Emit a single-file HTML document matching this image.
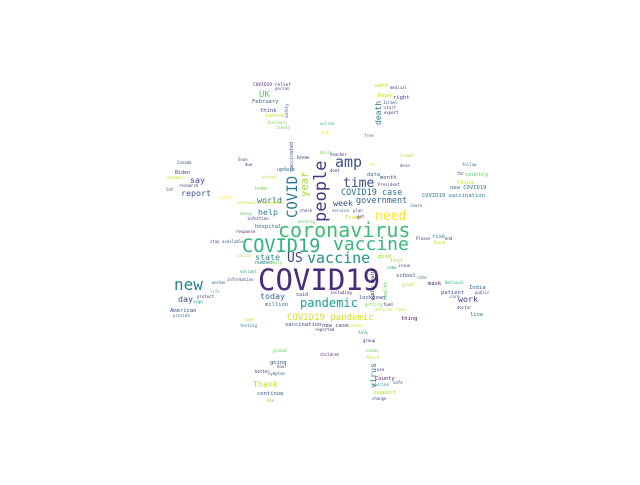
<!DOCTYPE html>
<html><head><meta charset="utf-8"><style>
html,body{margin:0;padding:0;background:#fff;}
svg text{font-family:"DejaVu Sans Mono","Liberation Mono",monospace;}
</style></head><body>
<svg width="640" height="480" viewBox="0 0 640 480" xmlns="http://www.w3.org/2000/svg">
<rect width="640" height="480" fill="#fff"/>
<g id="words"></g>
</svg>
<script>
// word, x, baseline y, font size, color, vertical
const words = ["COVID19","coronavirus","COVID19","vaccine","vaccine","US","new","people","amp","time","COVID","year","need","COVID19 case","government","week","pandemic","COVID19 pandemic","state","world","help","say","report","today","day","work","UK","death","Thank","virus",
"Canada","Biden","student","research","lot","Sean","due","know","update","effect","report","coronavirus pandemic","home","money","infection","hospital","response","stop available","social","number","family","variant","information","worker","life","protect","sign","American","provide","said","million","working","check",
"daily","teacher","travel","re","dose","follow","far","country","data","month","dont","China","new COVID19","President","COVID19 vaccination","plan","Trump","get","learn","service","risk","Please","end","found","good","test","came","issue","school","rate","mask","National","great","patient","India","public","lockdown","care","including","getting","food","article","case","doctor","live","thing",
"look","testing","vaccination","new case","access","reported","talk","group","global","children","leader","March","going","hour","use","better","symptom","County","safe","vaccine","continue","support","change","die",
"COVID19 relief","person","want","medical","February","Read","right","Israel","start","expert","think","latest","business","likely","online","hub","free","vaccinated","safety","health","public health"];
const xs = [258,278,242,333,307,287,174,326,335,343,297,308,375,341,356,333,300,287,255,257,258,190,181,260,178,458,259,381,253,376,
177,175,167,179,166,238,245,297,277,262,218,237,255,240,247,255,236,210,237,255,268,240,227,212,210,197,193,170,173,296,265,298,300,
320,330,400,370,400,462,457,465,367,380,330,457,450,378,422,353,345,357,410,332,432,416,445,433,378,390,387,398,396,417,428,445,402,441,469,475,359,450,330,365,383,375,396,457,470,401,
244,240,285,322,348,315,358,363,273,320,365,367,270,277,377,255,268,375,393,372,257,373,372,267,
253,275,375,390,252,378,393,383,384,384,260,265,268,276,320,322,364,293,288,387,374];
const ys = [290,237,252,250,263,262,290,222,167,187,218,197,220,195,203,206,307,320,260,203,215,183,196,299,302,302,97,125,387,388,
164,174,179,187,191,161,166,159,171,179,199,204,190,215,220,228,233,243,257,264,264,273,281,284,293,298,303,312,317,296,306,223,212,
154,156,157,166,167,166,175,176,176,179,172,184,189,186,197,212,219,218,207,212,238,240,240,244,258,262,269,267,277,279,285,284,286,294,289,294,299,298,294,306,306,311,311,309,316,320,
321,327,326,327,327,331,334,342,352,356,352,359,364,368,371,373,375,380,384,386,395,394,400,402,
86,90,87,89,103,97,99,104,109,114,112,117,124,129,125,134,137,172,118,300,300];
const sizes = [29,20,18.6,18,15,13,16,17,15,13,14,10.5,13,8.5,8.5,8.3,12,9,8.3,8.3,8.3,8.3,8.3,8.3,8.3,8.3,9,8,8.3,8.3,
4,5,4,4,4,4,4,5,5,4,4,4,5,4,4,5.5,4,4,4,5,4,4,4,4,4,4,4,5.5,4,5,5.5,4,4,
4,4,4,4,4,4,4,5.5,5.5,5.5,4,5.5,5.5,4,5.5,4,5.5,4,4,4,5.5,4,4,4,5.5,5.5,4,4,5.5,4,5.5,4,4,5.5,5.5,4,5.5,4,4,4,4,4,4,4,5.5,5.5,
4,4,5.5,5.5,4,4,4,4,4,4,4,4,5.5,4,4,4,4,5.5,4,4,5.5,5.5,4,4,
4.5,4,5.5,4,5.5,5.5,5.5,4,4,4,5.5,5.5,4,4,4,4,4,5,4,5,4];
const colors = ["#472d7b","#3fbc73","#2db27d","#35b779","#21918c","#414487","#26828e","#46337e","#3b528b","#3e4a89","#2a788e","#a5db36","#fde725","#2c728e","#33638d","#3b528b","#1f9e89","#d2e21b","#25858e","#2c728e","#287c8e","#414487","#3b528b","#31688e","#3e4a89","#443983","#5ec962","#2a788e","#c8e020","#2a788e",
"#3b528b","#414487","#bddf26","#482878","#46337e","#31688e","#482878","#3e4a89","#2c728e","#b5de2b","#fde725","#bddf26","#7ad151","#5ec962","#482878","#31688e","#471164","#3b528b","#a5db36","#25858e","#6ece58","#1f9e89","#3e4a89","#31688e","#35b779","#46337e","#1f9e89","#38588c","#2a788e","#3b528b","#2c728e","#5ec962","#414487",
"#6ece58","#482878","#a5db36","#d2e21b","#3b528b","#2c728e","#3e4a89","#5ec962","#2c728e","#3b528b","#471164","#c8e020","#2c728e","#443983","#2a788e","#3b528b","#c8e020","#481f70","#3b528b","#31688e","#2a788e","#414487","#482878","#bddf26","#addc30","#a5db36","#1f9e89","#443983","#3b528b","#2c728e","#482878","#35b779","#addc30","#3b528b","#31688e","#414487","#3b528b","#31688e","#482878","#7ad151","#481f70","#bddf26","#c8e020","#46337e","#2c728e",
"#471164","#c8e020","#26828e","#3e4a89","#443983","#d2e21b","#482878","#21918c","#471164","#5ec962","#481f70","#6ece58","#c8e020","#3b528b","#46337e","#482878","#482878","#2c728e","#481f70","#3b528b","#26828e","#38588c","#addc30","#3b528b",
"#6ece58","#482878","#3b528b","#bddf26","#3b528b","#33638d","#d2e21b","#414487","#3b528b","#3b528b","#46337e","#3b528b","#c8e020","#7ad151","#6ece58","#35b779","#fde725","#2c728e","#3e4a89","#3b528b","#5ec962"];
const vertical = [0,0,0,0,0,0,0,1,0,0,1,1,0,0,0,0,0,0,0,0,0,0,0,0,0,0,0,1,0,1];
const g = document.getElementById('words');
for (let i = 0; i < words.length; i++) {
  const t = document.createElementNS('http://www.w3.org/2000/svg','text');
  t.textContent = words[i];
  t.setAttribute('x', xs[i]);
  t.setAttribute('y', ys[i]);
  t.setAttribute('font-size', sizes[i]);
  t.setAttribute('fill', colors[i]);
  const isV = vertical[i] || (i >= words.length - 4 && i !== words.length - 5 && words[i] !== 'hub');
  if (isV) t.setAttribute('transform', 'rotate(-90 ' + xs[i] + ' ' + ys[i] + ')');
  
  
  g.appendChild(t);
}
</script>
</body></html>
